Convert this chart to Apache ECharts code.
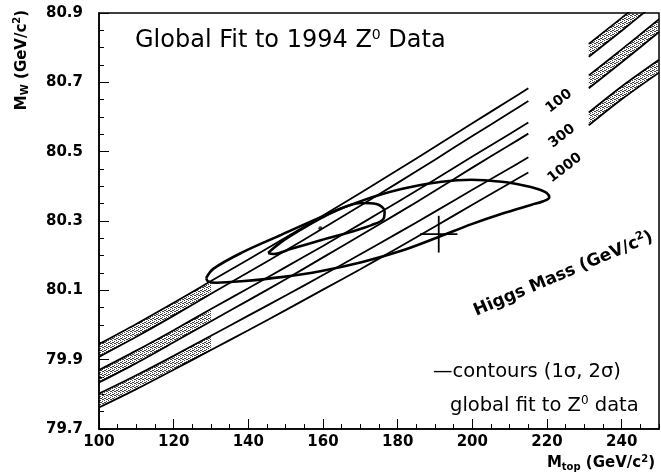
<!DOCTYPE html>
<html>
<head>
<meta charset="utf-8">
<script src="https://cdn.jsdelivr.net/npm/echarts@6/dist/echarts.min.js"></script>
<style>
  html, body { margin: 0; padding: 0; background: #fff; }
  #chart { width: 661px; height: 476px; }
</style>
</head>
<body>
<div id="chart"></div>
<script>
// ---- Higgs-mass bands: M_W (GeV/c^2) versus M_top (GeV/c^2) ----
// Left section of each band
const bandTopLeft = [100, 110, 120, 130, 140, 150, 160, 170, 180, 190, 200, 210, 215];
const mh100Upper = [79.945, 80.003, 80.064, 80.127, 80.189, 80.252, 80.316, 80.381, 80.447, 80.514, 80.582, 80.649, 80.683];
const mh100Lower = [79.908, 79.966, 80.027, 80.090, 80.152, 80.215, 80.279, 80.344, 80.410, 80.477, 80.545, 80.612, 80.646];
const mh300Upper = [79.870, 79.926, 79.985, 80.046, 80.106, 80.167, 80.228, 80.291, 80.355, 80.420, 80.486, 80.551, 80.584];
const mh300Lower = [79.834, 79.890, 79.950, 80.011, 80.071, 80.132, 80.195, 80.258, 80.322, 80.387, 80.454, 80.519, 80.552];
const mh1000Upper = [79.802, 79.855, 79.911, 79.969, 80.027, 80.085, 80.144, 80.204, 80.265, 80.327, 80.390, 80.452, 80.484];
const mh1000Lower = [79.762, 79.815, 79.871, 79.928, 79.985, 80.043, 80.102, 80.161, 80.222, 80.284, 80.347, 80.409, 80.440];
// Right section of each band (after the label gap)
const bandTopRight = [231.2, 240, 250];
const mh100UpperR = [80.811, 80.886, 80.973];
const mh100LowerR = [80.774, 80.849, 80.936];
const mh300UpperR = [80.720, 80.795, 80.882];
const mh300LowerR = [80.683, 80.758, 80.845];
const mh1000UpperR = [80.613, 80.688, 80.765];
const mh1000LowerR = [80.576, 80.651, 80.728];
const higgsMasses = ['100', '300', '1000'];

// ---- Fit contours ----
const contour2Top = [128.7, 130.6, 138.1, 148.8, 159.6, 170.3, 181.0, 191.8, 199.8, 207.9, 213.5, 217.5, 220.0, 220.6, 219.0, 215.9, 207.9, 199.8, 191.0, 181.0, 170.3, 159.6, 148.8, 138.1, 131.4, 129.2, 128.7];
const contour2W   = [80.135, 80.162, 80.208, 80.260, 80.312, 80.358, 80.392, 80.413, 80.419, 80.413, 80.403, 80.392, 80.380, 80.368, 80.357, 80.347, 80.321, 80.291, 80.254, 80.214, 80.181, 80.156, 80.138, 80.126, 80.122, 80.126, 80.135];
const contour1Top = [145.3, 148.8, 154.2, 159.6, 164.9, 170.3, 174.3, 176.5, 176.2, 173.0, 167.6, 159.6, 151.5, 146.7, 145.3];
const contour1W   = [80.208, 80.239, 80.276, 80.309, 80.337, 80.352, 80.349, 80.328, 80.306, 80.288, 80.269, 80.245, 80.220, 80.205, 80.208];
const bestFit = [159.3, 80.279];
// Direct measurement with errors: [M_top, M_W, dM_top, dM_W]
const directPoint = [191.0, 80.262, 5.0, 0.053];

// ---- Axis labels ----
const xTickLabels = [100, 120, 140, 160, 180, 200, 220, 240];
const yTickLabels = [79.7, 79.9, 80.1, 80.3, 80.5, 80.7, 80.9];

const shadeUpTo = 130;      // stippled part of the left section
const FONT = 'DejaVu Sans';

function pairs(xs, ys) { return xs.map((x, i) => [x, ys[i]]); }

// Stipple fill for the band interiors
function stipplePattern() {
  const c = document.createElement('canvas');
  c.width = 4; c.height = 4;
  const g = c.getContext('2d');
  g.fillStyle = '#444';
  [[0, 0], [2, 1], [1, 2], [3, 3], [2, 3], [0, 2]].forEach(p => g.fillRect(p[0], p[1], 1, 1));
  return c;
}
const pattern = { image: stipplePattern(), repeat: 'repeat' };

const bandDefs = [
  [mh100Upper, mh100Lower, mh100UpperR, mh100LowerR],
  [mh300Upper, mh300Lower, mh300UpperR, mh300LowerR],
  [mh1000Upper, mh1000Lower, mh1000UpperR, mh1000LowerR]
];

// Polygons to shade (data coordinates)
const shadePolys = [];
bandDefs.forEach(b => {
  const idx = bandTopLeft.map((x, i) => i).filter(i => bandTopLeft[i] <= shadeUpTo);
  const up = idx.map(i => [bandTopLeft[i], b[0][i]]);
  const lo = idx.map(i => [bandTopLeft[i], b[1][i]]).reverse();
  shadePolys.push(up.concat(lo));
  shadePolys.push(pairs(bandTopRight, b[2]).concat(pairs(bandTopRight, b[3]).reverse()));
});

const series = [];
series.push({
  type: 'custom',
  xAxisIndex: 0, yAxisIndex: 0,
  clip: true,
  silent: true,
  z: 1,
  data: shadePolys.map(p => p[0]),
  renderItem: function (params, api) {
    const pts = shadePolys[params.dataIndex].map(p => api.coord(p));
    return { type: 'polygon', shape: { points: pts }, style: { fill: pattern, stroke: null } };
  }
});

const lineStyleBand = { color: '#000', width: 1.8 };
bandDefs.forEach(b => {
  [[bandTopLeft, b[0]], [bandTopLeft, b[1]], [bandTopRight, b[2]], [bandTopRight, b[3]]].forEach(d => {
    series.push({
      type: 'line', data: pairs(d[0], d[1]), showSymbol: false, smooth: 0.3,
      lineStyle: lineStyleBand, z: 2, silent: true, clip: true
    });
  });
});

series.push({
  type: 'line', data: pairs(contour2Top, contour2W), showSymbol: false, smooth: 0.35,
  lineStyle: { color: '#000', width: 2.6 }, z: 3, silent: true
});
series.push({
  type: 'line', data: pairs(contour1Top, contour1W), showSymbol: false, smooth: 0.35,
  lineStyle: { color: '#000', width: 2.6 }, z: 3, silent: true
});
series.push({
  type: 'scatter', data: [bestFit], symbol: 'circle', symbolSize: 4,
  itemStyle: { color: '#000' }, z: 4, silent: true
});
// Error cross
series.push({
  type: 'line',
  data: [[directPoint[0] - directPoint[2], directPoint[1]], [directPoint[0] + directPoint[2], directPoint[1]]],
  showSymbol: false, lineStyle: { color: '#000', width: 1.8 }, z: 4, silent: true
});
series.push({
  type: 'line',
  data: [[directPoint[0], directPoint[1] - directPoint[3]], [directPoint[0], directPoint[1] + directPoint[3]]],
  showSymbol: false, lineStyle: { color: '#000', width: 1.8 }, z: 4, silent: true
});

const chart = echarts.init(document.getElementById('chart'));

const axisCommonY = { type: 'value', min: 79.7, max: 80.9, position: 'left' };
const axisCommonX = { type: 'value', min: 100, max: 250, position: 'bottom' };

chart.setOption({
  animation: false,
  backgroundColor: '#fff',
  grid: {
    left: 99, right: 2, top: 13, bottom: 47,
    show: true, borderColor: '#000', borderWidth: 1.5,
    containLabel: false, outerBoundsMode: 'none'
  },
  xAxis: [
    Object.assign({}, axisCommonX, {
      interval: 5,
      splitLine: { show: false },
      axisLine: { show: true, lineStyle: { color: '#000', width: 1.5 } },
      axisTick: { show: true, inside: true, length: 5, lineStyle: { color: '#000', width: 1 } },
      axisLabel: {
        customValues: xTickLabels, color: '#000', fontFamily: FONT, fontWeight: 'bold',
        fontSize: 15, margin: 6, formatter: v => String(Math.round(v))
      }
    }),
    Object.assign({}, axisCommonX, {
      splitLine: { show: false },
      axisLine: { show: false },
      axisTick: { show: true, inside: true, length: 10, customValues: xTickLabels, lineStyle: { color: '#000', width: 1 } },
      axisLabel: { show: false }
    })
  ],
  yAxis: [
    Object.assign({}, axisCommonY, {
      interval: 0.05,
      splitLine: { show: false },
      axisLine: { show: true, lineStyle: { color: '#000', width: 1.5 } },
      axisTick: { show: true, inside: true, length: 5, lineStyle: { color: '#000', width: 1 } },
      axisLabel: {
        customValues: yTickLabels, color: '#000', fontFamily: FONT, fontWeight: 'bold',
        fontSize: 15, margin: 16, formatter: v => v.toFixed(1)
      }
    }),
    Object.assign({}, axisCommonY, {
      splitLine: { show: false },
      axisLine: { show: false },
      axisTick: { show: true, inside: true, length: 10, customValues: yTickLabels, lineStyle: { color: '#000', width: 1 } },
      axisLabel: { show: false }
    })
  ],
  series: series
});

// ---- Text annotations ----
// Higgs mass labels sit to the right of the left band sections
const labelAnchor = [[223.2, 80.646], [224.0, 80.545], [224.8, 80.453]];
const higgsGraphics = higgsMasses.map((m, i) => {
  const p = chart.convertToPixel({ xAxisIndex: 0, yAxisIndex: 0 }, labelAnchor[i]);
  return {
    type: 'text', x: p[0], y: p[1], rotation: 38 * Math.PI / 180,
    style: { text: m, font: 'bold 14px ' + FONT, fill: '#000', align: 'center', verticalAlign: 'middle' }
  };
});
const hmAnchor = chart.convertToPixel({ xAxisIndex: 0, yAxisIndex: 0 }, [224.4, 80.147]);

chart.setOption({
  graphic: [
    {
      type: 'text', left: 135, top: 28,
      style: {
        text: 'Global Fit to 1994 Z{sup|0} Data', font: '24px ' + FONT, fill: '#000',
        rich: { sup: { fontSize: 14, padding: [0, 0, 12, 0], fontFamily: FONT } }
      }
    },
    {
      type: 'text', x: hmAnchor[0], y: hmAnchor[1], rotation: 23 * Math.PI / 180,
      style: {
        text: 'Higgs Mass (GeV/c{sup|2})', font: 'bold 17px ' + FONT, fill: '#000',
        align: 'center', verticalAlign: 'middle',
        rich: { sup: { fontSize: 11, fontWeight: 'bold', padding: [0, 0, 10, 0], fontFamily: FONT } }
      }
    },
    ...higgsGraphics,
    {
      type: 'text', x: 433, y: 372,
      style: {
        text: '\u2014contours (1\u03c3, 2\u03c3)', font: '19.5px ' + FONT, fill: '#000',
        verticalAlign: 'middle'
      }
    },
    {
      type: 'text', x: 450, y: 406,
      style: {
        text: 'global fit to Z{sup|0} data', font: '19.5px ' + FONT, fill: '#000',
        verticalAlign: 'middle',
        rich: { sup: { fontSize: 12, padding: [0, 0, 11, 0], fontFamily: FONT } }
      }
    },
    {
      type: 'text', x: 22, y: 60, rotation: Math.PI / 2,
      style: {
        text: 'M{sub|W} (GeV/c{sup|2})', font: 'bold 15px ' + FONT, fill: '#000',
        align: 'center', verticalAlign: 'middle',
        rich: {
          sub: { fontSize: 10, fontWeight: 'bold', padding: [7, 0, 0, 0], fontFamily: FONT },
          sup: { fontSize: 10, fontWeight: 'bold', padding: [0, 0, 9, 0], fontFamily: FONT }
        }
      }
    },
    {
      type: 'text', right: 6, top: 454,
      style: {
        text: 'M{sub|top} (GeV/c{sup|2})', font: 'bold 15px ' + FONT, fill: '#000',
        rich: {
          sub: { fontSize: 10, fontWeight: 'bold', padding: [7, 0, 0, 0], fontFamily: FONT },
          sup: { fontSize: 10, fontWeight: 'bold', padding: [0, 0, 9, 0], fontFamily: FONT }
        }
      }
    }
  ]
});
</script>
</body>
</html>
